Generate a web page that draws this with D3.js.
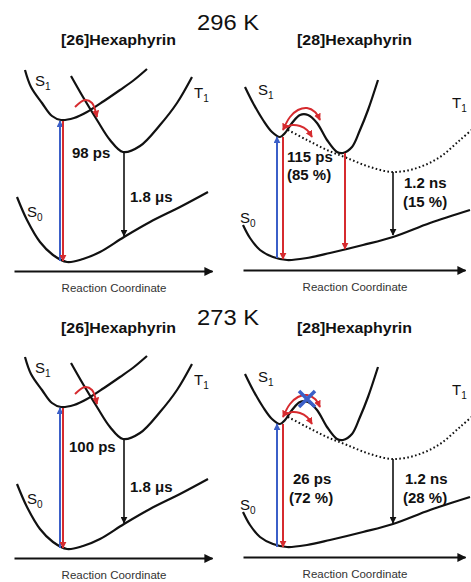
<!DOCTYPE html>
<html>
<head>
<meta charset="utf-8">
<script src="https://d3js.org/d3.v7.min.js"></script>
<style>
  body { margin: 0; background: #fff; }
  text { font-family: "Liberation Sans", Arial, sans-serif; fill: #111; }
</style>
</head>
<body>
<div id="chart"></div>
<script>
// potential energy curves, [reaction coordinate, energy]
const s0_26 = [[3,74],[13,51],[26,29],[39,16],[53,9],[69,12],[86,19],[110,34],[136,49],[166,64],[194,79]]
const s1_26 = [[11,201],[17,184],[28,168],[38,155],[47,151],[60,153],[73,159],[90,170],[106,181],[120,191],[133,202]]
const t1_26 = [[57,195],[69,174],[83,151],[96,131],[109,119],[126,125],[146,146],[163,168],[178,194]]
const isc_26 = [[61,164],[71,171],[78,168],[83,154]]

const s0_28 = [[0,45],[7,32],[17,20],[30,13],[44,10],[64,12],[87,17],[120,25],[150,33],[187,47],[227,60]]
const s1_28 = [[2,183],[10,167],[20,150],[29,138],[37,133],[42,137],[49,147],[57,155],[65,155],[74,147],[84,130],[94,118],[100,117],[109,123],[117,140],[125,160],[135,190]]
const t1_28 = [[45,140],[64,130],[84,120],[104,112],[127,103],[150,98],[174,102],[197,113],[217,130],[232,143]]
const barrier_28 = [[40,140],[47,153],[55,160],[64,162],[72,158],[77,150]]
const isc_28 = [[42,142],[49,145],[57,144],[64,140],[69,133]]

// vertical transitions: x, from energy, to energy
const trans_26 = [
  {kind: "abs", x: 46, from: 10, to: 150},
  {kind: "em", x: 49, from: 150, to: 10},
  {kind: "phos", x: 110, from: 119, to: 35}
]
const trans_28_hot = [
  {kind: "abs", x: 34, from: 12, to: 133},
  {kind: "em", x: 40, from: 133, to: 11},
  {kind: "em", x: 102, from: 117, to: 21},
  {kind: "phos", x: 150, from: 98, to: 35}
]
const trans_28_cold = [
  {kind: "abs", x: 34, from: 10, to: 133},
  {kind: "em", x: 40, from: 133, to: 10},
  {kind: "phos", x: 150, from: 98, to: 34}
]

const temps = ["296 K", "273 K"]
const molecules = ["[26]Hexaphyrin", "[28]Hexaphyrin"]
const life26 = ["98 ps", "100 ps"]
const trip26 = ["1.8 \u03bcs", "1.8 \u03bcs"]
const life28 = [["115 ps", "(85 %)"], ["26 ps", "(72 %)"]]
const trip28 = [["1.2 ns", "(15 %)"], ["1.2 ns", "(28 %)"]]

const W = 471, H = 582
const blue = "#3b5fc8", red = "#d62b2f", black = "#111"
const colorOf = {abs: blue, em: red, phos: black}

const svg = d3.select("#chart").append("svg")
  .attr("width", W).attr("height", H)
const defs = svg.append("defs")

function marker(id, color, size) {
  defs.append("marker")
    .attr("id", id)
    .attr("viewBox", "0 0 10 10")
    .attr("refX", 9).attr("refY", 5)
    .attr("markerWidth", size).attr("markerHeight", size)
    .attr("markerUnits", "userSpaceOnUse")
    .attr("orient", "auto-start-reverse")
    .append("path").attr("d", "M0,0L10,5L0,10z").attr("fill", color)
}
marker("head-abs", blue, 7)
marker("head-em", red, 7)
marker("head-phos", black, 7)
marker("head-axis", black, 9)

const panels = [
  {mol: 0, t: 0, ox: 14, oy: 271, len: 198},
  {mol: 1, t: 0, ox: 243, oy: 270, len: 222},
  {mol: 0, t: 1, ox: 14, oy: 558, len: 198},
  {mol: 1, t: 1, ox: 243, oy: 557, len: 222}
]

// temperature headers
temps.forEach((t, i) => {
  svg.append("text")
    .attr("x", 197).attr("y", i == 0 ? 30 : 325)
    .attr("font-size", 22)
    .attr("textLength", 62).attr("lengthAdjust", "spacingAndGlyphs")
    .text(t)
})

panels.forEach(p => {
  const x = d3.scaleLinear().domain([0, p.len]).range([p.ox, p.ox + p.len])
  const y = d3.scaleLinear().domain([0, 200]).range([p.oy, p.oy - 200])
  const line = d3.line()
    .x(d => x(d[0])).y(d => y(d[1]))
    .curve(d3.curveCatmullRom.alpha(0.5))
  const g = svg.append("g")

  // molecule title
  g.append("text")
    .attr("x", p.mol == 0 ? 61 : 297).attr("y", p.t == 0 ? 45 : 333)
    .attr("font-size", 14).attr("font-weight", "bold")
    .attr("textLength", 115).attr("lengthAdjust", "spacingAndGlyphs")
    .text(molecules[p.mol])

  // reaction coordinate axis
  const ax = g.append("g")
    .attr("transform", "translate(0," + p.oy + ")")
    .call(d3.axisBottom(x).ticks(0).tickSizeOuter(0))
  ax.select(".domain")
    .attr("stroke", black).attr("stroke-width", 2)
    .attr("marker-end", "url(#head-axis)")
  g.append("text")
    .attr("x", x(p.len / 2) + 1).attr("y", p.oy + 21)
    .attr("text-anchor", "middle")
    .attr("font-size", 11.5).style("fill", "#333")
    .text("Reaction Coordinate")

  const s0 = p.mol == 0 ? s0_26 : s0_28
  const s1 = p.mol == 0 ? s1_26 : s1_28
  const t1 = p.mol == 0 ? t1_26 : t1_28

  g.selectAll(".curve")
    .data(p.mol == 0 ? [s0, s1, t1] : [s0, s1])
    .enter().append("path")
    .attr("d", line)
    .attr("fill", "none").attr("stroke", black).attr("stroke-width", 2.2)

  if (p.mol == 1) {
    g.append("path")
      .attr("d", line(t1))
      .attr("fill", "none").attr("stroke", black).attr("stroke-width", 2)
      .attr("stroke-dasharray", "1.6,2.4")
  }

  // vertical transitions
  const trans = p.mol == 0 ? trans_26 : (p.t == 0 ? trans_28_hot : trans_28_cold)
  g.selectAll(".trans")
    .data(trans)
    .enter().append("line")
    .attr("x1", d => x(d.x)).attr("x2", d => x(d.x))
    .attr("y1", d => y(d.from)).attr("y2", d => y(d.to))
    .attr("stroke", d => colorOf[d.kind]).attr("stroke-width", d => d.kind == "phos" ? 1.6 : 2)
    .attr("marker-end", d => "url(#head-" + d.kind + ")")

  // curved red arrows
  if (p.mol == 0) {
    g.append("path").attr("d", line(isc_26))
      .attr("fill", "none").attr("stroke", red).attr("stroke-width", 2)
      .attr("marker-end", "url(#head-em)")
  } else {
    g.append("path").attr("d", line(barrier_28))
      .attr("fill", "none").attr("stroke", red).attr("stroke-width", 2)
      .attr("marker-start", "url(#head-em)")
      .attr("marker-end", "url(#head-em)")
    g.append("path").attr("d", line(isc_28))
      .attr("fill", "none").attr("stroke", red).attr("stroke-width", 2)
      .attr("marker-end", "url(#head-em)")
    if (p.t == 1) {
      // barrier crossing blocked
      const cx = x(64), cy = y(158), r = 8
      g.append("path")
        .attr("d", `M${cx - r},${cy - r}L${cx + r},${cy + r}M${cx - r},${cy + r}L${cx + r},${cy - r}`)
        .attr("stroke", blue).attr("stroke-width", 3.5).attr("fill", "none")
    }
  }

  // state labels
  const states = p.mol == 0
    ? [["S", "1", 21, 185], ["T", "1", 180, 173], ["S", "0", 13, 54]]
    : [["S", "1", 15, 175], ["T", "1", 209, 162], ["S", "0", -3, 47]]
  states.forEach(s => {
    const t = g.append("text").attr("x", x(s[2])).attr("y", y(s[3])).attr("font-size", 15)
    t.append("tspan").text(s[0])
    t.append("tspan").attr("font-size", 10).attr("dy", 4).text(s[1])
  })

  // lifetimes
  const lbl = (txt, cx, cy) => g.append("text")
    .attr("x", x(cx)).attr("y", y(cy))
    .attr("font-size", 15).attr("font-weight", "bold")
    .text(txt)
  if (p.mol == 0) {
    if (p.t == 0) { lbl(life26[0], 58, 113); lbl(trip26[0], 116, 69) }
    else { lbl(life26[1], 55, 106); lbl(trip26[1], 116, 66) }
  } else {
    if (p.t == 0) {
      lbl(life28[0][0], 44, 108); lbl(life28[0][1], 44, 90)
      lbl(trip28[0][0], 161, 82); lbl(trip28[0][1], 160, 63)
    } else {
      lbl(life28[1][0], 50, 73); lbl(life28[1][1], 46, 54)
      lbl(trip28[1][0], 162, 73); lbl(trip28[1][1], 160, 54)
    }
  }
})
</script>
</body>
</html>
